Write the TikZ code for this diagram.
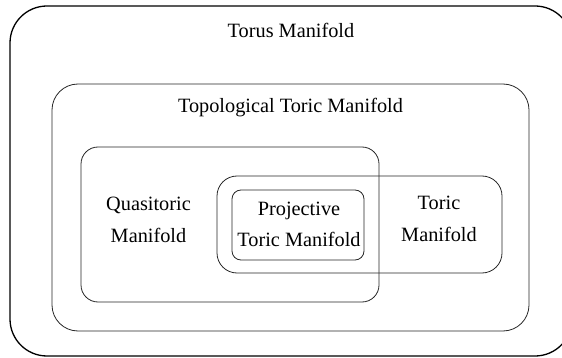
\documentclass[tikz,border=0pt]{standalone}
\usepackage{fontspec}
\setmainfont{Liberation Serif}
\begin{document}
\begin{tikzpicture}[x=1pt,y=-1pt,
  outerbox/.style={draw=black, line width=1.3pt, rounded corners=37pt, inner sep=0pt},
  setbox/.style={draw=black!85, line width=0.8pt, inner sep=0pt},
  label/.style={font={\fontsize{20.3}{32}\selectfont}, align=center, anchor=base, inner sep=0pt}]
\useasboundingbox (0,0) rectangle (562,358);
\node[outerbox, minimum width=562pt, minimum height=350pt] (torus) at (291,181) {};
\node[setbox, rounded corners=26pt, minimum width=477pt, minimum height=247pt] (topo) at (290.5,207.5) {};
\node[setbox, rounded corners=17pt, minimum width=298pt, minimum height=155pt] (quasi) at (230,224.5) {};
\node[setbox, rounded corners=20pt, minimum width=285pt, minimum height=97pt] (toric) at (359.5,224.5) {};
\node[setbox, rounded corners=9pt, minimum width=132pt, minimum height=70pt] (proj) at (298,225) {};
\node[label] (torusl) at (291,38) {Torus Manifold};
\node[label] (topol) at (290.5,112.5) {Topological Toric Manifold};
\node[label] (quasil) at (148.5,242) {Quasitoric\\Manifold};
\node[label] (projl) at (299,247) {Projective\\Toric Manifold};
\node[label] (toricl) at (439,241) {Toric\\Manifold};
\end{tikzpicture}
\end{document}
